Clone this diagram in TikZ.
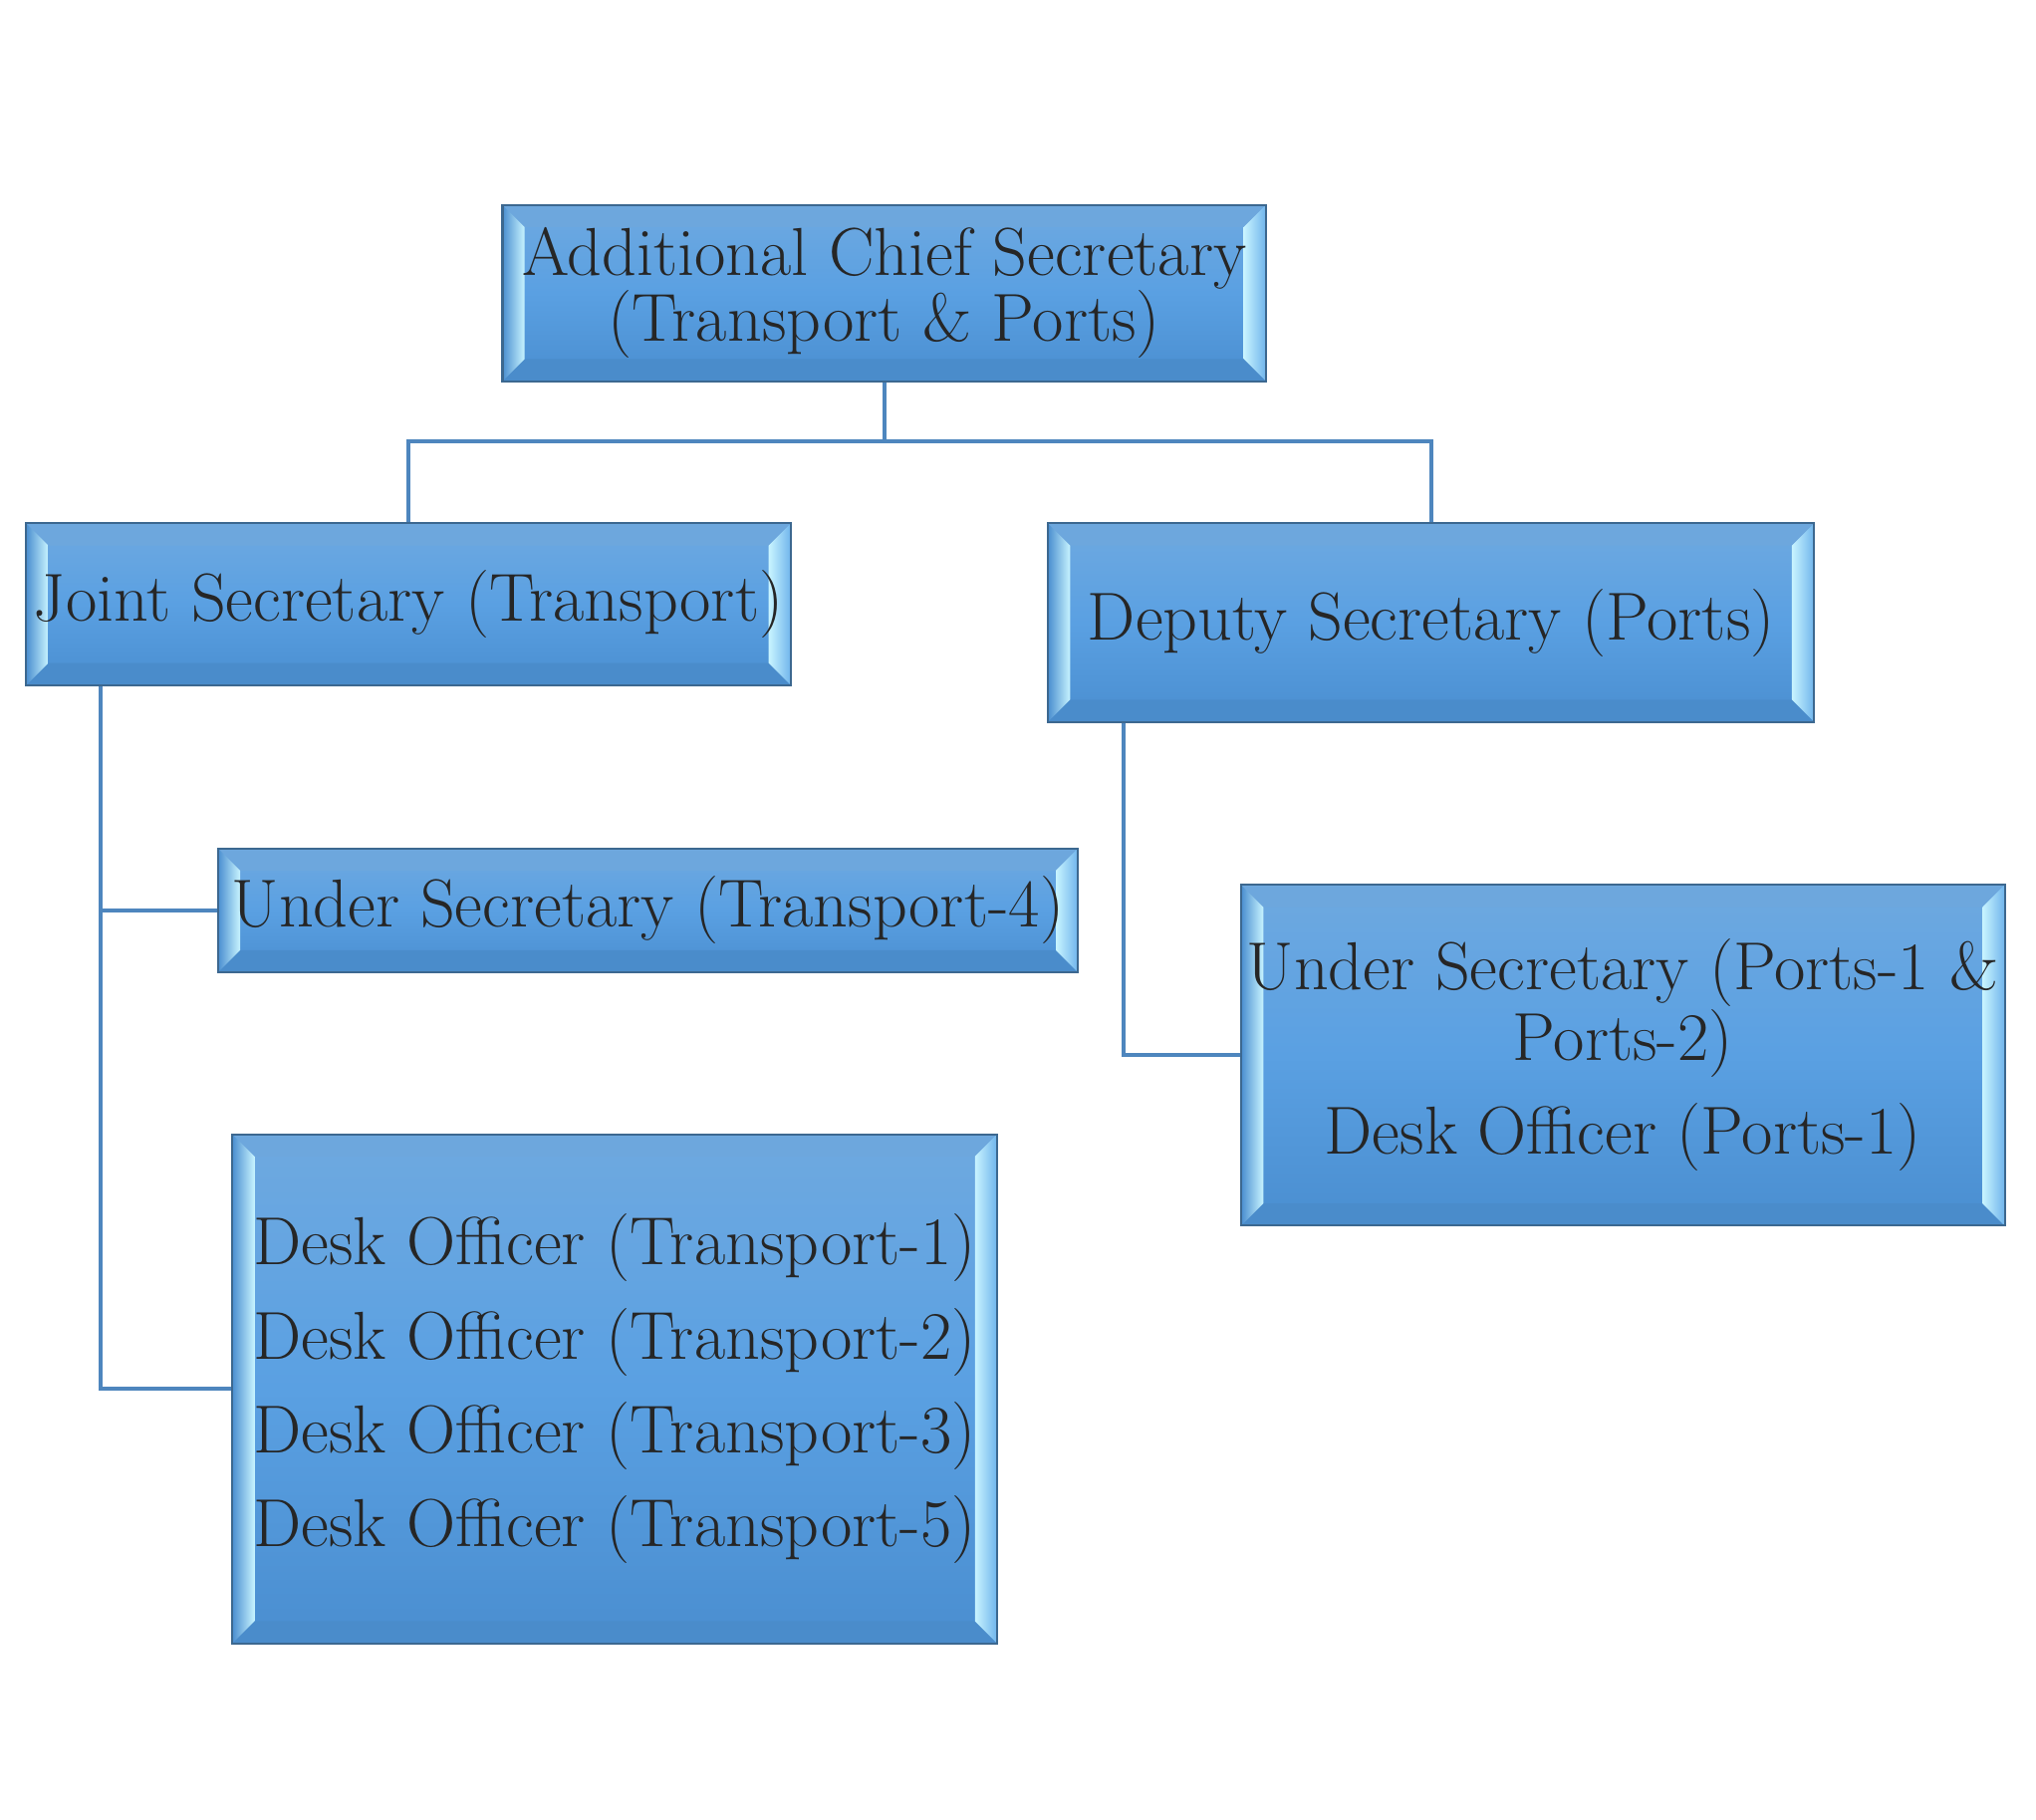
\documentclass[tikz,border=0pt]{standalone}
\usepackage{fontspec}
\usepackage{xcolor}
\usepackage{tikz}

\definecolor{boxtop}{HTML}{6EA9E0}
\definecolor{boxmid}{HTML}{5AA0E2}
\definecolor{boxbot}{HTML}{4A8ED0}
\definecolor{bevlight}{HTML}{C8F4FF}
\definecolor{bevedge}{HTML}{6FB4EC}
\definecolor{bevbot}{HTML}{4A8CCB}
\definecolor{bevtopc}{HTML}{6DA7DD}
\definecolor{rim}{HTML}{3C6890}
\definecolor{wire}{HTML}{4E86BE}
\definecolor{ink}{HTML}{262626}

\newcommand{\bev}{8.5pt}

\begin{document}
\begin{tikzpicture}[x=0.5pt,y=-0.5pt,
    post/.style={rectangle, draw=rim, line width=0.8pt, inner sep=0pt,
      top color=boxtop, bottom color=boxbot, middle color=boxmid,
      text=ink, align=center, font=\fontsize{26}{25}\selectfont,
      path picture={
        % top and bottom bevels
        \fill[bevtopc] (path picture bounding box.north west) -- (path picture bounding box.north east)
          -- ([xshift=-\bev,yshift=-\bev]path picture bounding box.north east)
          -- ([xshift=\bev,yshift=-\bev]path picture bounding box.north west) -- cycle;
        \fill[bevbot] (path picture bounding box.south west) -- (path picture bounding box.south east)
          -- ([xshift=-\bev,yshift=\bev]path picture bounding box.south east)
          -- ([xshift=\bev,yshift=\bev]path picture bounding box.south west) -- cycle;
        % side bevels
        \shade[left color=boxbot, right color=bevlight] (path picture bounding box.north west)
          -- ([xshift=\bev,yshift=-\bev]path picture bounding box.north west)
          -- ([xshift=\bev,yshift=\bev]path picture bounding box.south west)
          -- (path picture bounding box.south west) -- cycle;
        \shade[left color=bevlight, right color=bevedge] (path picture bounding box.north east)
          -- ([xshift=-\bev,yshift=-\bev]path picture bounding box.north east)
          -- ([xshift=-\bev,yshift=\bev]path picture bounding box.south east)
          -- (path picture bounding box.south east) -- cycle;
      }},
    link/.style={draw=wire, line width=1.5pt}]

  \useasboundingbox (0,0) rectangle (1560,1394);

  % boxes
  \node[post, minimum width=292.5pt, minimum height=67.5pt] (acs) at (677.5,224.5)
    {Additional Chief Secretary\\(Transport \& Ports)};
  \node[post, minimum width=293pt, minimum height=62pt] (js) at (313,463)
    {Joint Secretary (Transport)};
  \node[post, minimum width=293.5pt, minimum height=76pt] (ds) at (1096.5,477)
    {Deputy Secretary (Ports)};
  \node[post, minimum width=329.5pt, minimum height=47.5pt] (ust) at (496.5,697.5)
    {Under Secretary (Transport-4)};
  \node[post, minimum width=293pt, minimum height=195pt] (dot) at (471,1064)
    {Desk Officer (Transport-1)\\[9pt]Desk Officer (Transport-2)\\[9pt]Desk Officer (Transport-3)\\[9pt]Desk Officer (Transport-5)};
  \node[post, minimum width=292.5pt, minimum height=130.5pt] (usp) at (1243.5,808.5)
    {Under Secretary (Ports-1 \&\\Ports-2)\\[9pt]Desk Officer (Ports-1)};

  % connectors
  \coordinate (bus) at (677.5,338);
  \draw[link] (acs.south) -- (bus) -| (js.north);
  \draw[link] (bus) -| (ds.north);
  \draw[link] ([xshift=29pt]js.south west) |- (ust.west);
  \draw[link] ([xshift=29pt]js.south west) |- (dot.west);
  \draw[link] ([xshift=29.5pt]ds.south west) |- (usp.west);

\end{tikzpicture}
\end{document}
